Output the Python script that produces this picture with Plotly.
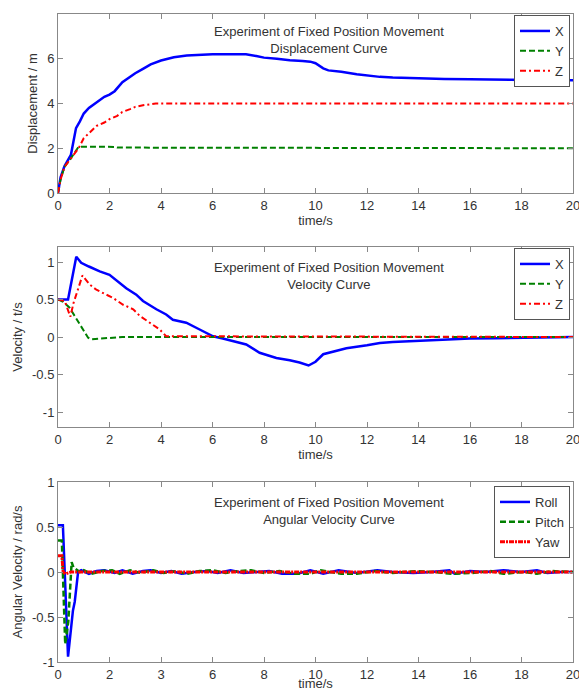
import plotly.graph_objects as go
from plotly.subplots import make_subplots

# ---------------- data ----------------
# Displacement curve
t_disp_x = [0, 0.1, 0.25, 0.4, 0.5, 0.6, 0.7, 0.85, 1.0, 1.2, 1.5, 1.8, 2.0, 2.2, 2.5, 2.8, 3.0, 3.3, 3.6,
            4.0, 4.5, 5.0, 5.5, 6.0, 6.5, 7.0, 7.3, 7.7, 8.0, 8.5, 9.0, 9.5, 9.8, 10.0, 10.3, 10.5, 11.0,
            11.6, 12.0, 12.5, 13.0, 14.0, 15.0, 16.0, 18.0, 18.5, 20.0]
disp_x = [0, 0.7, 1.2, 1.5, 1.7, 2.3, 2.9, 3.2, 3.55, 3.8, 4.05, 4.3, 4.4, 4.55, 4.95, 5.2, 5.35, 5.55, 5.75,
          5.92, 6.07, 6.15, 6.18, 6.2, 6.2, 6.2, 6.2, 6.12, 6.05, 6.0, 5.93, 5.9, 5.87, 5.8, 5.57, 5.48, 5.42,
          5.31, 5.25, 5.19, 5.16, 5.12, 5.1, 5.08, 5.07, 5.05, 5.04]
t_disp_y = [0, 0.1, 0.25, 0.5, 0.8, 1.0, 2.2, 2.3, 3.9, 4.0, 20]
disp_y = [0, 0.6, 1.17, 1.55, 2.07, 2.07, 2.06, 2.03, 2.03, 2.0, 2.0]
t_disp_z = [0, 0.1, 0.25, 0.5, 0.8, 1.0, 1.3, 1.5, 1.8, 2.0, 2.3, 2.5, 2.8, 3.0, 3.3, 3.5, 3.8, 4.0, 20]
disp_z = [0, 0.6, 1.17, 1.55, 2.0, 2.45, 2.8, 3.0, 3.15, 3.3, 3.45, 3.62, 3.75, 3.85, 3.92, 3.96, 4.0, 4.0, 4.0]

# Velocity curve
t_vel_x = [0, 0.39, 0.71, 0.9, 1.2, 1.62, 2.0, 2.27, 2.65, 3.04, 3.3, 3.82, 4.2, 4.46, 4.98, 5.5, 6.02, 6.4,
           6.8, 7.31, 7.83, 8.48, 9.0, 9.38, 9.73, 10.0, 10.3, 10.7, 11.2, 12.0, 12.5, 13.0, 14.0, 15.0, 16.0,
           17.0, 18.0, 19.0, 20.0]
vel_x = [0.5, 0.5, 1.07, 0.99, 0.94, 0.875, 0.83, 0.76, 0.65, 0.565, 0.48, 0.37, 0.3, 0.23, 0.19, 0.1, 0.01,
         -0.02, -0.055, -0.1, -0.21, -0.28, -0.31, -0.34, -0.38, -0.33, -0.23, -0.19, -0.15, -0.11, -0.08,
         -0.065, -0.05, -0.04, -0.02, -0.015, -0.01, -0.005, 0]
t_vel_y = [0, 0.2, 0.45, 0.84, 1.17, 1.3, 1.62, 2.5, 20]
vel_y = [0.5, 0.47, 0.39, 0.17, -0.01, -0.03, -0.02, 0, 0]
t_vel_z = [0, 0.26, 0.48, 0.6, 0.95, 1.23, 1.49, 1.88, 2.14, 2.53, 2.92, 3.18, 3.56, 3.95, 4.2, 20]
vel_z = [0.5, 0.48, 0.27, 0.45, 0.82, 0.7, 0.63, 0.565, 0.52, 0.43, 0.37, 0.28, 0.19, 0.1, 0.01, 0.0]

# Angular velocity curve
t_roll = [0, 0.19, 0.39, 0.58, 0.65, 0.78, 0.9, 1.2, 1.5, 1.8, 2.2, 2.5, 2.9, 3.3, 3.6, 4.0, 4.4, 4.8, 5.3,
          5.8, 6.2, 6.7, 7.2, 7.7, 8.2, 8.7, 9.3, 9.8, 10.3, 10.9, 11.6, 12.4, 13.0, 13.8, 14.5, 15.2, 15.4,
          16.0, 16.6, 17.3, 18.0, 18.6, 19.0, 19.5, 20]
roll = [0.52, 0.52, -0.94, -0.43, -0.33, 0.0, 0.02, -0.02, 0.01, 0.02, -0.01, 0.02, -0.02, 0.01, 0.02, -0.01,
        0.01, -0.02, 0.0, 0.01, -0.01, 0.02, -0.01, 0.0, 0.01, -0.02, -0.02, 0.02, -0.02, 0.02, -0.01, 0.02,
        0.0, -0.01, 0.0, 0.02, -0.02, 0.01, 0.0, 0.02, 0.0, 0.02, -0.01, 0.0, 0.0]
t_pitch = [0, 0.15, 0.28, 0.4, 0.53, 0.6, 0.7, 0.85, 1.0, 1.3, 1.7, 2.1, 2.4, 2.8, 3.2, 3.7, 4.1, 4.6, 5.0,
           5.5, 6.0, 6.5, 7.0, 7.5, 8.0, 8.6, 9.2, 9.8, 10.2, 11.0, 11.6, 12.3, 13.0, 13.9, 14.6, 15.3, 16.1,
           16.8, 17.3, 18.1, 18.6, 19.2, 20]
pitch = [0.35, 0.35, -0.8, -0.55, 0.11, 0.05, 0.03, 0.0, 0.02, -0.02, 0.01, 0.02, -0.02, 0.02, -0.01, 0.02,
         -0.01, 0.01, -0.02, 0.01, 0.02, -0.01, 0.01, 0.02, -0.01, 0.01, -0.02, -0.02, 0.02, -0.02, -0.02,
         0.01, -0.01, 0.01, 0.0, -0.02, -0.01, 0.01, -0.02, 0.0, -0.02, 0.01, 0.0]
t_yaw = [0, 0.15, 0.2, 0.3, 0.5, 1.0, 2.0, 4.0, 6.0, 8.0, 10.0, 12.0, 14.0, 16.0, 18.0, 20]
yaw = [0.18, 0.18, 0.0, -0.02, 0.0, 0.0, -0.005, 0.0, -0.005, 0.0, -0.005, 0.0, 0.0, -0.005, 0.0, 0.0]

x_ticks = [0, 2, 4, 6, 8, 10, 12, 14, 16, 18, 20]
x_ticktext = ["0", "2", "4", "6", "8", "10", "12", "14", "16", "18", "20"]
x_ticktext_bottom = ["0", "2", "3", "6", "8", "10", "12", "14", "16", "18", "20"]

titles = ["Experiment of Fixed Position Movement<br>Displacement Curve",
          "Experiment of Fixed Position Movement<br>Velocity Curve",
          "Experiment of Fixed Position Movement<br>Angular Velocity Curve"]
y_titles = ["Displacement / m", "Velocity / t/s", "Angular Velocity / rad/s"]

# ---------------- styles ----------------
OFF = 8                      # page body margin of the html page
W, H = 587 - OFF, 691 - OFF  # figure size so that it fills the window
FONT = "Liberation Sans, Arial, sans-serif"
TXT = "#333333"
AX = "#888888"
BLUE, GREEN, RED = "#0000FF", "#008000", "#FF0000"
DASH_G = "6px,3px"
DASH_R = "6px,3px,2px,3px"

def px_x(p):
    return (p - OFF) / W

def px_y(p):
    return 1 - (p - OFF) / H

fig = make_subplots(rows=3, cols=1)

def line(color, dash, width=2):
    return dict(color=color, dash=dash, width=width)

fig.add_trace(go.Scatter(x=t_disp_x, y=disp_x, name="X", mode="lines", line=line(BLUE, "solid", 2.5), legend="legend"), 1, 1)
fig.add_trace(go.Scatter(x=t_disp_y, y=disp_y, name="Y", mode="lines", line=line(GREEN, DASH_G), legend="legend"), 1, 1)
fig.add_trace(go.Scatter(x=t_disp_z, y=disp_z, name="Z", mode="lines", line=line(RED, DASH_R), legend="legend"), 1, 1)

fig.add_trace(go.Scatter(x=t_vel_x, y=vel_x, name="X", mode="lines", line=line(BLUE, "solid", 2.5), legend="legend2"), 2, 1)
fig.add_trace(go.Scatter(x=t_vel_y, y=vel_y, name="Y", mode="lines", line=line(GREEN, DASH_G), legend="legend2"), 2, 1)
fig.add_trace(go.Scatter(x=t_vel_z, y=vel_z, name="Z", mode="lines", line=line(RED, DASH_R), legend="legend2"), 2, 1)

fig.add_trace(go.Scatter(x=t_roll, y=roll, name="Roll", mode="lines", line=line(BLUE, "solid", 2.5), legend="legend3"), 3, 1)
fig.add_trace(go.Scatter(x=t_pitch, y=pitch, name="Pitch", mode="lines", line=line(GREEN, DASH_G, 2.5), legend="legend3"), 3, 1)
fig.add_trace(go.Scatter(x=t_yaw, y=yaw, name="Yaw", mode="lines", line=line(RED, "5px,1px,2px,1px", 3), legend="legend3"), 3, 1)

xd = [px_x(58), px_x(573)]
ydoms = [[px_y(193), px_y(14)], [px_y(427), px_y(247)], [px_y(662), px_y(482)]]
yranges = [[0, 8], [-1.2, 1.2], [-1, 1]]
ytickvals = [[0, 2, 4, 6, 8], [-1, -0.5, 0, 0.5, 1], [-1, -0.5, 0, 0.5, 1]]
ytexts = [["0", "2", "4", "6", "8"], ["-1", "-0.5", "0", "0.5", "1"], ["-1", "-0.5", "0", "0.5", "1"]]

axcommon = dict(showline=True, linecolor=AX, linewidth=1, mirror="ticks", ticks="inside",
                ticklen=5, tickcolor=AX, showgrid=False, zeroline=False, automargin=False,
                tickfont=dict(family=FONT, size=13, color=TXT))
for i in range(3):
    fig.update_xaxes(domain=xd, range=[0, 20], tickvals=x_ticks,
                     ticktext=(x_ticktext_bottom if i == 2 else x_ticktext),
                     title=dict(text="time/s", standoff=0, font=dict(family=FONT, size=13, color=TXT)),
                     row=i + 1, col=1, **axcommon)
    fig.update_yaxes(domain=ydoms[i], range=yranges[i], tickvals=ytickvals[i], ticktext=ytexts[i],
                     title=dict(text=y_titles[i], standoff=6, font=dict(family=FONT, size=13, color=TXT)),
                     row=i + 1, col=1, **axcommon)

title_y = [px_y(22), px_y(258), px_y(493)]
for i in range(3):
    fig.add_annotation(text=titles[i], xref="paper", yref="paper", x=px_x(329), y=title_y[i],
                       xanchor="center", yanchor="top", showarrow=False, align="center",
                       font=dict(family=FONT, size=13, color=TXT))

leg = dict(xref="paper", yref="paper", xanchor="right", yanchor="top", bgcolor="white",
           bordercolor="#555555", borderwidth=1, font=dict(family=FONT, size=13, color=TXT),
           itemwidth=30, tracegroupgap=0)
fig.update_layout(
    width=W, height=H, margin=dict(l=0, r=0, t=0, b=0),
    paper_bgcolor="white", plot_bgcolor="white",
    legend=dict(x=px_x(570), y=px_y(15), **leg),
    legend2=dict(x=px_x(570), y=px_y(248), **leg),
    legend3=dict(x=px_x(570), y=px_y(486), **leg),
)

fig.write_html("out.html")
